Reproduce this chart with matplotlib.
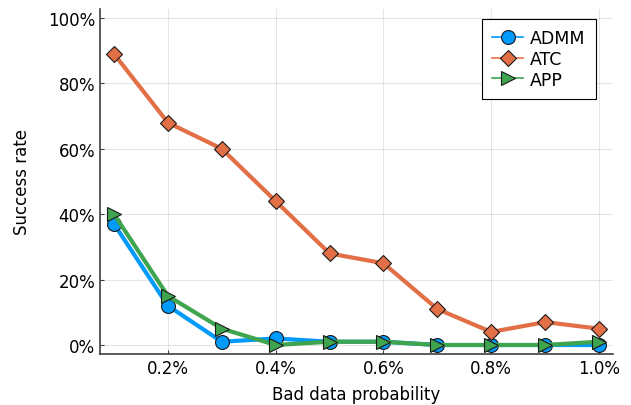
import matplotlib
matplotlib.use("Agg")
from matplotlib import pyplot as plt
from matplotlib.ticker import FuncFormatter

prob = [0.1, 0.2, 0.3, 0.4, 0.5, 0.6, 0.7, 0.8, 0.9, 1.0]
admm = [37, 12, 1, 2, 1, 1, 0, 0, 0, 0]
atc = [89, 68, 60, 44, 28, 25, 11, 4, 7, 5]
app = [40, 15, 5, 0, 1, 1, 0, 0, 0, 1]

fig = plt.figure(figsize=(6.31, 4.06), dpi=100)
ax = fig.add_axes([100 / 631, 51 / 406, 513 / 631, 345 / 406])

ax.plot(prob, admm, '-o', color='#009AFA', lw=3, ms=10, mec='#1a1a1a', mew=0.8, label="ADMM")
ax.plot(prob, atc, '-D', color='#E36F47', lw=3, ms=8.5, mec='#1a1a1a', mew=0.8, label="ATC")
ax.plot(prob, app, '->', color='#3EA44E', lw=3, ms=10, mec='#1a1a1a', mew=0.8, label="APP")

ax.set_xlim(0.074, 1.026)
ax.set_ylim(-2.75, 102.75)
ax.set_xticks([0.2, 0.4, 0.6, 0.8, 1.0])
ax.set_yticks([0, 20, 40, 60, 80, 100])
ax.xaxis.set_major_formatter(FuncFormatter(lambda v, p: f"{v:.1f}%"))
ax.yaxis.set_major_formatter(FuncFormatter(lambda v, p: f"{v:.0f}%"))
ax.tick_params(direction='in', length=3, labelsize=12, color='#404040')
ax.grid(True, color='black', alpha=0.1, lw=0.8)
for s in ['top', 'right']:
    ax.spines[s].set_visible(False)
for s in ['left', 'bottom']:
    ax.spines[s].set_color('#404040')
    ax.spines[s].set_linewidth(1.2)

ax.set_xlabel("Bad data probability", fontsize=12, labelpad=6)
ax.set_ylabel("Success rate", fontsize=12, labelpad=12)

leg = ax.legend(loc='upper right', fontsize=12.5,
                fancybox=False, framealpha=1, edgecolor='black', handlelength=1.8,
                borderaxespad=0.8, handletextpad=0.4, labelspacing=0.15, borderpad=0.6)
leg.set_bbox_to_anchor((510 / 513, 1.0 + 4 / 345), transform=ax.transAxes)
leg.get_frame().set_linewidth(0.8)
for h in leg.get_lines():
    h.set_linewidth(1.2)

fig.savefig("out.png", dpi=100)
